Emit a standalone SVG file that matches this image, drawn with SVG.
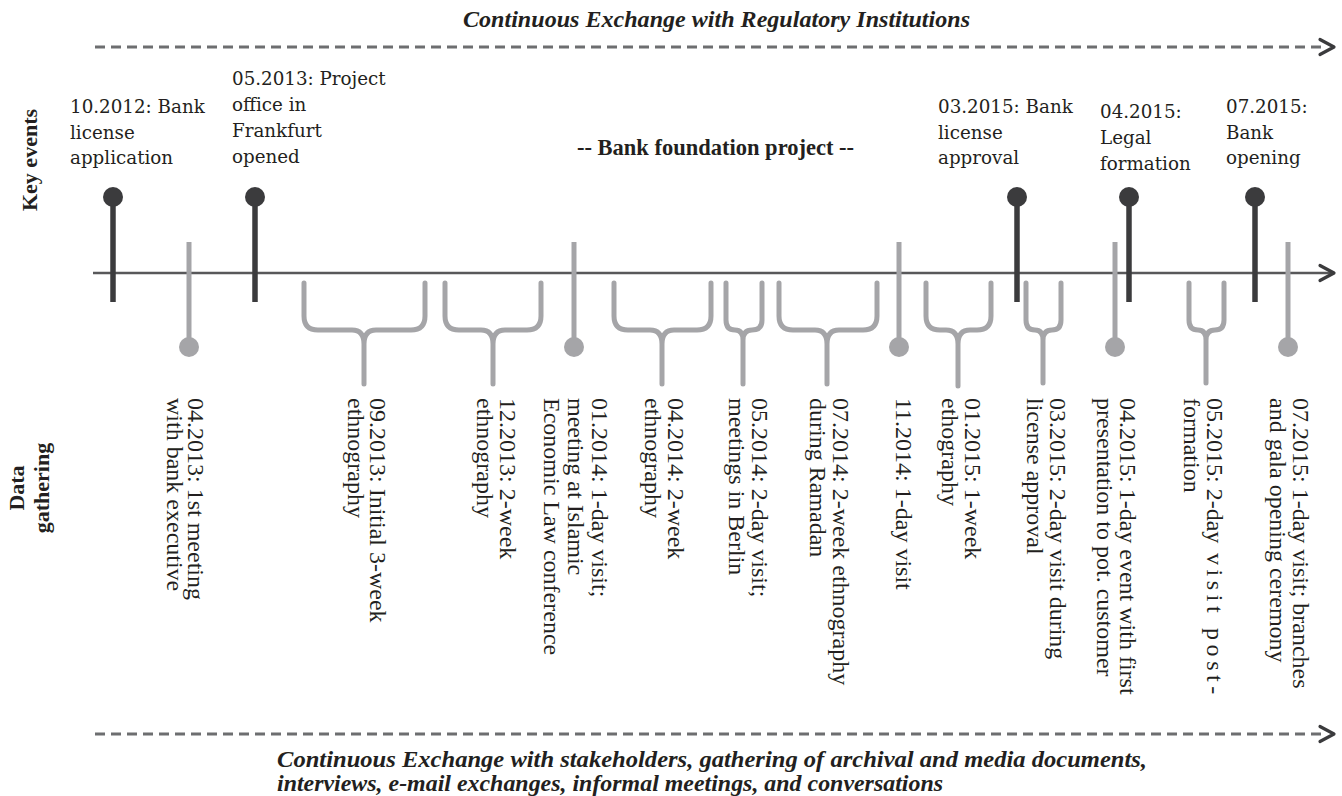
<svg xmlns="http://www.w3.org/2000/svg" width="1342" height="796" viewBox="0 0 1342 796">
<defs>
<style>
.ttl{font-family:"Liberation Serif",serif;font-weight:bold;font-style:italic;font-size:24px;fill:#231f20}
.side{font-family:"Liberation Serif",serif;font-weight:bold;font-size:22px;fill:#231f20}
.ke{font-family:"DejaVu Serif",serif;font-size:18.3px;fill:#231f20}
.proj{font-family:"Liberation Serif",serif;font-weight:bold;font-size:22.5px;fill:#231f20}
.vt{font-family:"Liberation Serif",serif;font-size:24px;fill:#231f20}
.dpin{stroke:#3b3b3d;stroke-width:5.5;fill:none}
.dcirc{fill:#3b3b3d}
.gpin{stroke:#a5a5a8;stroke-width:5;fill:none}
.gcirc{fill:#a5a5a8}
.brace{stroke:#a5a5a8;stroke-width:5;fill:none;stroke-linecap:round;stroke-linejoin:round}
.dash{stroke:#6d6e70;stroke-width:3;stroke-dasharray:10 6;fill:none}
.axis{stroke:#58585a;stroke-width:2.5;fill:none}
.head{stroke:#3b3b3d;stroke-width:3.2;fill:none;stroke-linecap:round;stroke-linejoin:round}
</style>
</defs>
<rect width="1342" height="796" fill="#ffffff"/>

<g id="connectors">
<line class="dash" x1="95" y1="47" x2="1326" y2="47"/>
<polyline class="head" points="1320,39.5 1334,47 1320,54.5"/>
<line class="axis" x1="93" y1="273" x2="1332" y2="273"/>
<polyline class="head" points="1320,265.5 1334,273 1320,280.5"/>
<line class="dash" x1="95" y1="734" x2="1326" y2="734"/>
<polyline class="head" points="1320,726.5 1334,734 1320,741.5"/>
</g>

<g id="title-top"><text class="ttl" x="463" y="27" textLength="507" lengthAdjust="spacingAndGlyphs">Continuous Exchange with Regulatory Institutions</text></g>
<g id="title-bottom"><text class="ttl"><tspan x="277" y="767" textLength="870" lengthAdjust="spacingAndGlyphs">Continuous Exchange with stakeholders, gathering of archival and media documents,</tspan><tspan x="277" y="791" textLength="666" lengthAdjust="spacingAndGlyphs">interviews, e-mail exchanges, informal meetings, and conversations</tspan></text></g>
<g id="label-key-events"><text class="side" transform="translate(37,160) rotate(-90)" text-anchor="middle">Key events</text></g>
<g id="label-data-gathering"><text class="side" transform="translate(24,488) rotate(-90)" text-anchor="middle">Data<tspan x="0" dy="25">gathering</tspan></text></g>
<g id="project"><text class="proj" x="715.5" y="155" text-anchor="middle">-- Bank foundation project --</text></g>

<!-- Key events -->
<g id="ke-2012-10">
<line class="dpin" x1="113" y1="197" x2="113" y2="302"/><circle class="dcirc" cx="113" cy="197" r="10"/>
<text class="ke" x="70" y="113">10.2012: Bank<tspan x="70" y="138.5">license</tspan><tspan x="70" y="164">application</tspan></text>
</g>
<g id="ke-2013-05">
<line class="dpin" x1="255" y1="197" x2="255" y2="302"/><circle class="dcirc" cx="255" cy="197" r="10"/>
<text class="ke" x="232" y="85">05.2013: Project<tspan x="232" y="111">office in</tspan><tspan x="232" y="137">Frankfurt</tspan><tspan x="232" y="163">opened</tspan></text>
</g>
<g id="ke-2015-03">
<line class="dpin" x1="1017" y1="197" x2="1017" y2="302"/><circle class="dcirc" cx="1017" cy="197" r="10"/>
<text class="ke" x="938" y="113">03.2015: Bank<tspan x="938" y="138.5">license</tspan><tspan x="938" y="164">approval</tspan></text>
</g>
<g id="ke-2015-04">
<line class="dpin" x1="1129" y1="197" x2="1129" y2="302"/><circle class="dcirc" cx="1129" cy="197" r="10"/>
<text class="ke" x="1100" y="118">04.2015:<tspan x="1100" y="144">Legal</tspan><tspan x="1100" y="169.5">formation</tspan></text>
</g>
<g id="ke-2015-07">
<line class="dpin" x1="1255" y1="197" x2="1255" y2="302"/><circle class="dcirc" cx="1255" cy="197" r="10"/>
<text class="ke" x="1226" y="113">07.2015:<tspan x="1226" y="138.5">Bank</tspan><tspan x="1226" y="164">opening</tspan></text>
</g>

<!-- Data gathering: single-point pins -->
<g id="dg-2013-04">
<line class="gpin" x1="189" y1="242" x2="189" y2="347"/><circle class="gcirc" cx="189" cy="347" r="10"/>
<text class="vt" transform="translate(188,398) rotate(90)">04.2013: 1st meeting<tspan x="0" dy="21">with bank executive</tspan></text>
</g>
<g id="dg-2014-01">
<line class="gpin" x1="574" y1="242" x2="574" y2="347"/><circle class="gcirc" cx="574" cy="347" r="10"/>
<text class="vt" transform="translate(592,398) rotate(90)">01.2014: 1-day visit;<tspan x="0" dy="24">meeting at Islamic</tspan><tspan x="0" dy="24">Economic Law conference</tspan></text>
</g>
<g id="dg-2014-11">
<line class="gpin" x1="899" y1="242" x2="899" y2="347"/><circle class="gcirc" cx="899" cy="347" r="10"/>
<text class="vt" transform="translate(896,398) rotate(90)">11.2014: 1-day visit</text>
</g>
<g id="dg-2015-04">
<line class="gpin" x1="1115" y1="242" x2="1115" y2="347"/><circle class="gcirc" cx="1115" cy="347" r="10"/>
<text class="vt" transform="translate(1120,398) rotate(90)">04.2015: 1-day event with first<tspan x="0" dy="23">presentation to pot. customer</tspan></text>
</g>
<g id="dg-2015-07">
<line class="gpin" x1="1288" y1="242" x2="1288" y2="347"/><circle class="gcirc" cx="1288" cy="347" r="10"/>
<text class="vt" transform="translate(1293,398) rotate(90)">07.2015: 1-day visit; branches<tspan x="0" dy="23">and gala opening ceremony</tspan></text>
</g>

<!-- Data gathering: period braces -->
<g id="dg-2013-09">
<path class="brace" d="M304,283 V316 Q304,330 318,330 H352 Q364,330 364,344 V384 M425,283 V316 Q425,330 411,330 H376 Q364,330 364,344"/>
<text class="vt" transform="translate(370,398) rotate(90)">09.2013: Initial 3-week<tspan x="0" dy="22">ethnography</tspan></text>
</g>
<g id="dg-2013-12">
<path class="brace" d="M445,283 V316 Q445,330 459,330 H481 Q493,330 493,344 V384 M541,283 V316 Q541,330 527,330 H505 Q493,330 493,344"/>
<text class="vt" transform="translate(500,398) rotate(90)">12.2013: 2-week<tspan x="0" dy="23">ethnography</tspan></text>
</g>
<g id="dg-2014-04">
<path class="brace" d="M614,283 V316 Q614,330 628,330 H650 Q662,330 662,344 V384 M711,283 V316 Q711,330 697,330 H674 Q662,330 662,344"/>
<text class="vt" transform="translate(668,398) rotate(90)">04.2014: 2-week<tspan x="0" dy="23">ethnography</tspan></text>
</g>
<g id="dg-2014-05">
<path class="brace" d="M726,283 V320 Q726,330 735,330 Q743,330 743,340 V384 M762,283 V320 Q762,330 752,330 Q743,330 743,340"/>
<text class="vt" transform="translate(752,398) rotate(90)">05.2014: 2-day visit;<tspan x="0" dy="23">meetings in Berlin</tspan></text>
</g>
<g id="dg-2014-07">
<path class="brace" d="M779,283 V316 Q779,330 793,330 H815 Q827,330 827,344 V384 M877,283 V316 Q877,330 863,330 H839 Q827,330 827,344"/>
<text class="vt" transform="translate(833,398) rotate(90)">07.2014: 2-week ethnography<tspan x="0" dy="23">during Ramadan</tspan></text>
</g>
<g id="dg-2015-01">
<path class="brace" d="M926,283 V316 Q926,330 940,330 H946 Q958,330 958,344 V386 M991,283 V316 Q991,330 977,330 H970 Q958,330 958,344"/>
<text class="vt" transform="translate(965,398) rotate(90)">01.2015: 1-week<tspan x="0" dy="23">ethography</tspan></text>
</g>
<g id="dg-2015-03">
<path class="brace" d="M1026,283 V320 Q1026,330 1035,330 Q1043,330 1043,340 V383 M1061,283 V320 Q1061,330 1052,330 Q1043,330 1043,340"/>
<text class="vt" transform="translate(1050,398) rotate(90)">03.2015: 2-day visit during<tspan x="0" dy="23">license approval</tspan></text>
</g>
<g id="dg-2015-05">
<path class="brace" d="M1189,283 V320 Q1189,330 1198,330 Q1206,330 1206,340 V383 M1224,283 V320 Q1224,330 1215,330 Q1206,330 1206,340"/>
<text class="vt" transform="translate(1207,398) rotate(90)">05.2015: 2-day <tspan x="155" letter-spacing="4.6">visit post-</tspan><tspan x="0" dy="23">formation</tspan></text>
</g>
</svg>
